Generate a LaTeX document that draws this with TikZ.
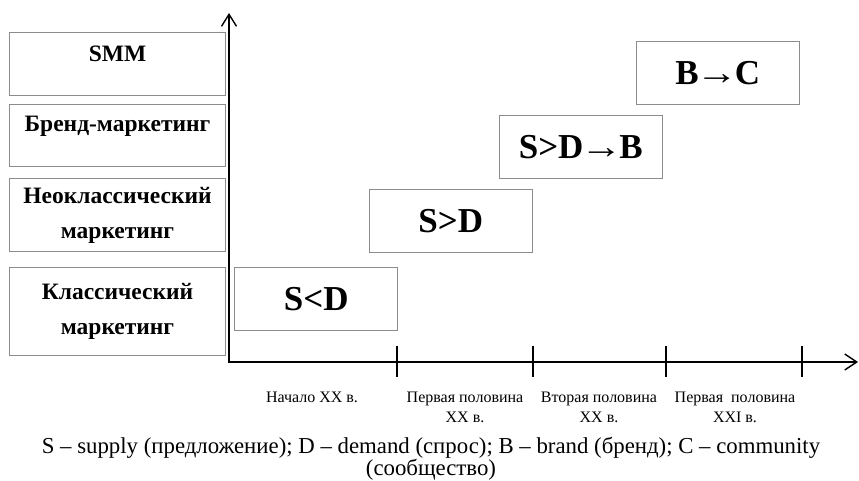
\documentclass[tikz,border=0pt]{standalone}
\usepackage{fontspec}
\setmainfont{Liberation Serif}
\usetikzlibrary{arrows.meta}
\definecolor{boxgray}{RGB}{140,140,140}
\newcommand{\stagearrow}{\kern-3pt\scalebox{1.2}[1]{→}\kern-3pt}
\begin{document}
\begin{tikzpicture}[x=1pt,y=1pt]
\tikzstyle{every node}+=[inner sep=0pt]
\tikzstyle{catbox}=[draw=boxgray, line width=0.9pt, minimum width=216.4pt, align=center, font=\fontsize{23.5}{35}\selectfont\bfseries]
\tikzstyle{stagebox}=[draw=boxgray, line width=0.9pt, minimum width=163pt, minimum height=62.6pt, font=\fontsize{35}{40}\selectfont\bfseries]
\tikzstyle{axis}=[line width=1.8pt, {Straight Barb[length=12pt,width=15pt,line width=1.4pt]}-{Straight Barb[length=12pt,width=16pt,line width=1.4pt]}]
\tikzstyle{tick}=[line width=1.6pt]
\tikzstyle{period}=[anchor=north, align=center, font=\fontsize{16}{20}\selectfont]
\tikzstyle{legend}=[anchor=north, align=center, font=\fontsize{22.8}{22}\selectfont]
\useasboundingbox (0,0) rectangle (859,-481);
\node[catbox, minimum height=62.7pt, text depth=20pt] (smm) at (117.5,-63.7) {SMM};
\node[catbox, minimum height=62.4pt, text depth=24pt] (brand) at (117.5,-135.5) {Бренд-маркетинг};
\node[catbox, minimum height=73.4pt] (neo) at (117.5,-215) {Неоклассический\\маркетинг};
\node[catbox, minimum height=88.4pt] (classic) at (117.5,-311.5) {Классический\\маркетинг};
\node[stagebox] (sld) at (316.3,-298.7) {S<D};
\node[stagebox] (sgd) at (450.8,-221.2) {S>D};
\node[stagebox] (sgdb) at (580.8,-147) {S>D\stagearrow B};
\node[stagebox] (bc) at (717.8,-73) {B\stagearrow C};
\coordinate (yend) at (229,-13);
\coordinate (xend) at (858,-362);
\draw[axis] (yend) |- (xend);
\coordinate (t1) at (397,-362);
\coordinate (t2) at (533,-362);
\coordinate (t3) at (666,-362);
\coordinate (t4) at (802,-362);
\draw[tick] (t1) ++(0,16) -- ++(0,-31);
\draw[tick] (t2) ++(0,16) -- ++(0,-31);
\draw[tick] (t3) ++(0,16) -- ++(0,-31);
\draw[tick] (t4) ++(0,16) -- ++(0,-31);
\node[period] (early) at (312,-392) {Начало XX в.};
\node[period] (first) at (465,-392) {Первая половина\\XX в.};
\node[period] (second) at (599,-392) {Вторая половина\\XX в.};
\node[period] (modern) at (735,-392) {Первая\ \ половина\\XXI в.};
\node[legend] (note) at (431,-437) {S – supply (предложение); D – demand (спрос); B – brand (бренд); C – community\\(сообщество)};
\end{tikzpicture}
\end{document}
